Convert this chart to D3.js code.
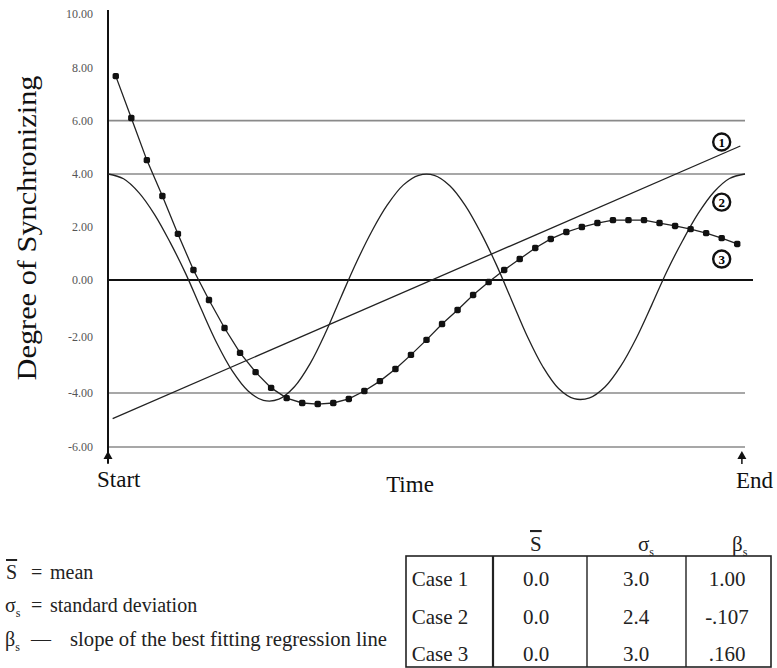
<!DOCTYPE html>
<html>
<head>
<meta charset="utf-8">
<script src="https://cdn.jsdelivr.net/npm/d3@7"></script>
<style>
  body { margin: 0; background: #fff; }
  svg { display: block; font-family: "Liberation Serif", "Times New Roman", serif; }
</style>
</head>
<body>
<div id="chart"></div>
<script>
"use strict";
//time runs 0..41 between Start and End, case 3 points sit at i + 0.5
var yTicks = [10, 8, 6, 4, 2, 0, -2, -4, -6];
var gridValues = [6, 4, -4, -6];

//case 1: straight regression-like line, end points
var case1 = [[0.3, -4.95], [40.7, 5.05]];

//case 2: smooth wave, one value per time unit 0..41
var case2 = [4.00, 3.82, 3.29, 2.47, 1.42, 0.24, -1.03, -2.23, -3.22, -3.92,
  -4.27, -4.23, -3.78, -2.97, -1.87, -0.60, 0.68, 1.86, 2.85, 3.58,
  3.95, 3.95, 3.56, 2.81, 1.78, 0.57, -0.74, -2.01, -3.08, -3.84,
  -4.21, -4.18, -3.78, -3.05, -2.06, -0.88, 0.36, 1.50, 2.52, 3.32,
  3.83, 4.00];

//case 3: marked series
var case3 = [7.67, 6.10, 4.52, 3.17, 1.74, 0.38, -0.71, -1.70, -2.58, -3.26,
  -3.82, -4.19, -4.37, -4.41, -4.37, -4.22, -3.93, -3.58, -3.15, -2.65,
  -2.12, -1.56, -1.06, -0.53, -0.07, 0.38, 0.79, 1.21, 1.55, 1.81,
  2.00, 2.15, 2.26, 2.26, 2.26, 2.15, 2.04, 1.92, 1.77, 1.58, 1.36];

var caseNames = ["Case 1", "Case 2", "Case 3"];
var means = ["0.0", "0.0", "0.0"];
var sds = ["3.0", "2.4", "3.0"];
var slopes = ["1.00", "-.107", ".160"];

var w = 777, h = 668;

var svg = d3.select("#chart").append("svg")
  .attr("width", w)
  .attr("height", h);

var x = d3.scaleLinear().domain([0, 41]).range([108, 745]);
//scan is slightly uneven, so the scale is piecewise
var y = d3.scaleLinear().domain([-6, -4, 0, 4, 10]).range([447, 393, 280, 174, 14]);

//grid lines
svg.append("g").selectAll("line")
  .data(gridValues)
  .enter().append("line")
  .attr("x1", x(0))
  .attr("x2", x(41))
  .attr("y1", function(d) { return y(d); })
  .attr("y2", function(d) { return y(d); })
  .attr("stroke", "#8a8a8a")
  .attr("stroke-width", 1.6);

//zero line
svg.append("line")
  .attr("x1", x(0)).attr("x2", x(41) + 8)
  .attr("y1", y(0)).attr("y2", y(0))
  .attr("stroke", "#111")
  .attr("stroke-width", 2);

//y axis labels, plain hyphen as in the original
var fmt = d3.format(".2f");
var yAxis = d3.axisLeft(y)
  .tickValues(yTicks)
  .tickSize(0)
  .tickPadding(15)
  .tickFormat(function(d) { return fmt(d).replace("\u2212", "-"); });

var gy = svg.append("g")
  .attr("transform", "translate(" + x(0) + ",0)")
  .call(yAxis);
gy.select(".domain").remove();
gy.selectAll("text")
  .attr("font-family", "Liberation Serif, serif")
  .attr("font-size", 12)
  .attr("fill", "#555");

//axis line with start arrow
svg.append("line")
  .attr("x1", x(0)).attr("x2", x(0))
  .attr("y1", y(10) - 4).attr("y2", 463)
  .attr("stroke", "#111")
  .attr("stroke-width", 2);

function arrow(px) {
  svg.append("path")
    .attr("d", "M" + px + ",451 L" + (px - 4.5) + ",459 L" + (px + 4.5) + ",459 Z")
    .attr("fill", "#111");
  svg.append("line")
    .attr("x1", px).attr("x2", px)
    .attr("y1", 455).attr("y2", 464)
    .attr("stroke", "#111")
    .attr("stroke-width", 1.5);
}
arrow(x(0));
arrow(x(40.8));

//series
var line = d3.line()
  .x(function(d) { return x(d[0]); })
  .y(function(d) { return y(d[1]); });

svg.append("path")
  .datum(case1)
  .attr("d", line)
  .attr("fill", "none")
  .attr("stroke", "#222")
  .attr("stroke-width", 1.3);

svg.append("path")
  .datum(case2.map(function(v, i) { return [i, v]; }))
  .attr("d", line.curve(d3.curveCatmullRom))
  .attr("fill", "none")
  .attr("stroke", "#222")
  .attr("stroke-width", 1.3);

var pts3 = case3.map(function(v, i) { return [i + 0.5, v]; });

svg.append("path")
  .datum(pts3)
  .attr("d", line.curve(d3.curveLinear))
  .attr("fill", "none")
  .attr("stroke", "#222")
  .attr("stroke-width", 1.3);

svg.append("g").selectAll("rect")
  .data(pts3)
  .enter().append("rect")
  .attr("x", function(d) { return x(d[0]) - 3.2; })
  .attr("y", function(d) { return y(d[1]) - 3.2; })
  .attr("width", 6.4)
  .attr("height", 6.4)
  .attr("rx", 1.8)
  .attr("fill", "#111");

//circled case numbers
var marks = [[5.2, "1"], [2.94, "2"], [0.79, "3"]];
var gm = svg.append("g").selectAll("g")
  .data(marks)
  .enter().append("g")
  .attr("transform", function(d) { return "translate(" + x(39.5) + "," + y(d[0]) + ")"; });
gm.append("circle")
  .attr("r", 8.5)
  .attr("fill", "#fff")
  .attr("stroke", "#111")
  .attr("stroke-width", 2.4);
gm.append("text")
  .attr("text-anchor", "middle")
  .attr("dy", "0.35em")
  .attr("font-size", 13)
  .attr("font-weight", "bold")
  .text(function(d) { return d[1]; });

//axis titles
svg.append("text")
  .attr("transform", "translate(36,228) rotate(-90)")
  .attr("text-anchor", "middle")
  .attr("font-size", 28)
  .attr("textLength", 305)
  .attr("lengthAdjust", "spacingAndGlyphs")
  .attr("fill", "#111")
  .text("Degree of Synchronizing");

svg.append("text").attr("x", x(0) - 11).attr("y", 487)
  .attr("font-size", 23).attr("fill", "#111").text("Start");
svg.append("text").attr("x", 410).attr("y", 492).attr("text-anchor", "middle")
  .attr("font-size", 23).attr("fill", "#111").text("Time");
svg.append("text").attr("x", 736).attr("y", 488)
  .attr("font-size", 23).attr("fill", "#111").text("End");

//legend on the left
var leg = svg.append("g").attr("font-size", 20).attr("fill", "#222");

function symbol(g, xx, yy, letter, over) {
  var t = g.append("text").attr("x", xx).attr("y", yy);
  var s = t.append("tspan").text(letter);
  if (over) s.style("text-decoration", "overline");
  else t.append("tspan").attr("font-size", 12).attr("dy", 5).text("s");
}

symbol(leg, 6, 579, "S", true);
leg.append("text").attr("x", 31).attr("y", 579).text("=");
leg.append("text").attr("x", 50).attr("y", 579).text("mean");

symbol(leg, 5, 612, "σ", false);
leg.append("text").attr("x", 31).attr("y", 612).text("=");
leg.append("text").attr("x", 50).attr("y", 612).text("standard deviation");

symbol(leg, 5, 646, "β", false);
leg.append("text").attr("x", 31).attr("y", 646).text("—");
leg.append("text").attr("x", 70).attr("y", 646)
  .attr("textLength", 317).attr("lengthAdjust", "spacingAndGlyphs")
  .text("slope of the best fitting regression line");

//table
var tbl = svg.append("g").attr("font-size", 21).attr("fill", "#222");
var colX = [406, 493, 587, 686, 771];
var rowBase = [586, 624, 661];

tbl.append("rect")
  .attr("x", colX[0]).attr("y", 556)
  .attr("width", colX[4] - colX[0]).attr("height", 111)
  .attr("fill", "none").attr("stroke", "#222").attr("stroke-width", 1.6);
tbl.selectAll("line.sep")
  .data(colX.slice(1, 4))
  .enter().append("line")
  .attr("class", "sep")
  .attr("x1", function(d) { return d; }).attr("x2", function(d) { return d; })
  .attr("y1", 556).attr("y2", 667)
  .attr("stroke", "#222")
  .attr("stroke-width", function(d, i) { return i === 0 ? 2.2 : 1.4; });

symbol(tbl, 530, 551, "S", true);
symbol(tbl, 638, 551, "σ", false);
symbol(tbl, 732, 551, "β", false);

var cols = [caseNames, means, sds, slopes];
var colCenter = [440, 536, 636, 727];
cols.forEach(function(col, c) {
  tbl.append("g").selectAll("text")
    .data(col)
    .enter().append("text")
    .attr("x", colCenter[c])
    .attr("y", function(d, i) { return rowBase[i]; })
    .attr("text-anchor", "middle")
    .text(function(d) { return d; });
});
</script>
</body>
</html>
